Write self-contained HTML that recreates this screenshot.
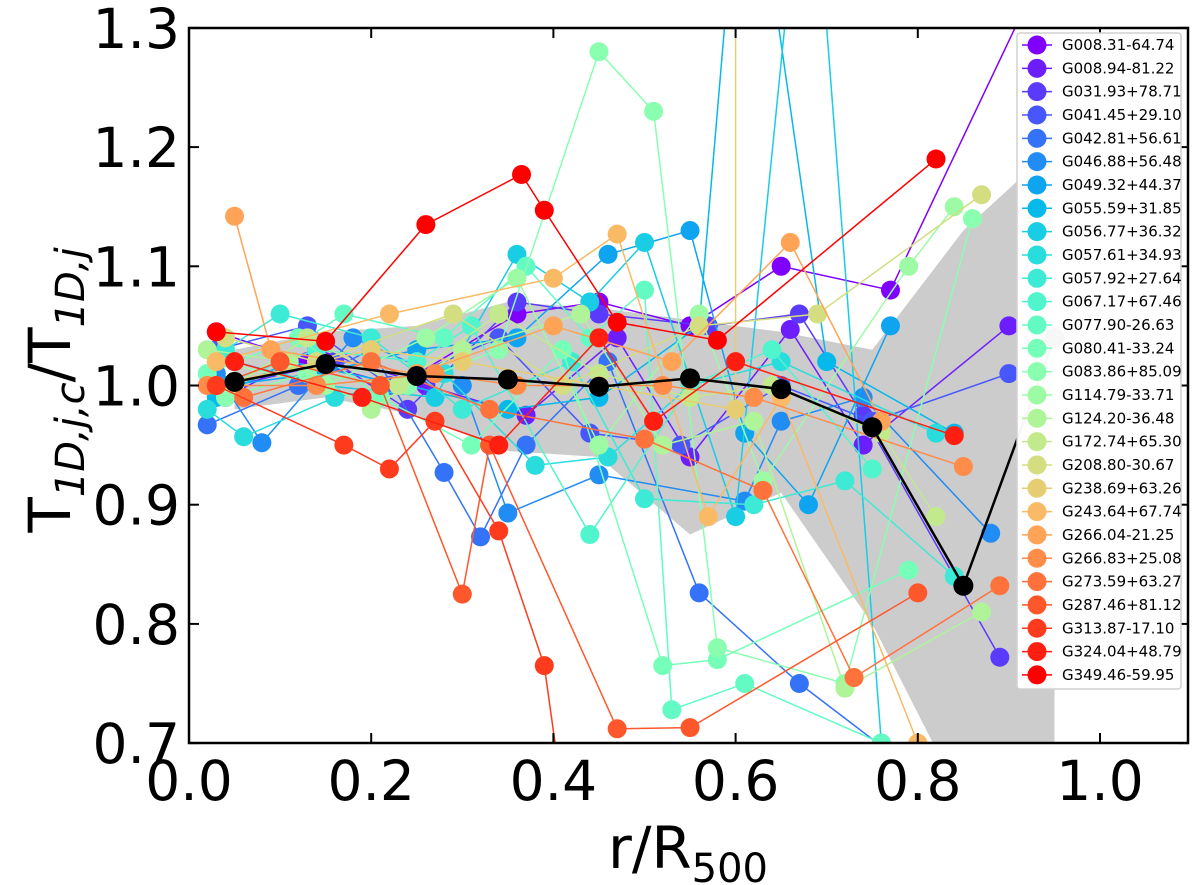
<!DOCTYPE html>
<html><head><meta charset="utf-8"><style>
body{margin:0;background:#fff}
svg{display:block;font-family:"DejaVu Sans","Liberation Sans",sans-serif}
</style></head><body>
<svg id="chart" width="1200" height="885">
<defs><clipPath id="clip"><rect x="189" y="28" width="999" height="715"/></clipPath></defs>
<g id="plot" clip-path="url(#clip)"></g>
<g id="axes"></g>
<g id="legend"></g>
</svg>
<script>
const names=["G008.31-64.74","G008.94-81.22","G031.93+78.71","G041.45+29.10","G042.81+56.61","G046.88+56.48","G049.32+44.37","G055.59+31.85","G056.77+36.32","G057.61+34.93","G057.92+27.64","G067.17+67.46","G077.90-26.63","G080.41-33.24","G083.86+85.09","G114.79-33.71","G124.20-36.48","G172.74+65.30","G208.80-30.67","G238.69+63.26","G243.64+67.74","G266.04-21.25","G266.83+25.08","G273.59+63.27","G287.46+81.12","G313.87-17.10","G324.04+48.79","G349.46-59.95"];
const series=[
[[0.03,1.045],[0.13,1.02],[0.23,1.0],[0.36,1.06],[0.45,1.07],[0.55,1.05],[0.65,1.1],[0.77,1.08],[1.0,1.45]],
[[0.04,0.99],[0.14,1.03],[0.26,1.0],[0.37,0.975],[0.47,1.04],[0.55,0.94],[0.66,1.047],[0.74,0.95],[0.9,1.05]],
[[0.05,1.0],[0.16,1.02],[0.24,0.98],[0.36,1.07],[0.45,1.06],[0.57,1.05],[0.67,1.06],[0.74,0.975],[0.89,0.772]],
[[0.03,1.03],[0.13,1.05],[0.22,1.0],[0.34,1.04],[0.44,0.96],[0.54,0.95],[0.65,1.0],[0.75,0.97],[0.9,1.01]],
[[0.02,0.967],[0.12,1.0],[0.2,1.03],[0.28,0.927],[0.32,0.873],[0.37,0.95],[0.46,1.02],[0.56,0.826],[0.67,0.75],[0.79,0.68]],
[[0.03,1.01],[0.08,0.952],[0.18,1.04],[0.3,1.0],[0.35,0.893],[0.45,0.925],[0.61,0.903],[0.65,0.97],[0.74,0.99],[0.88,0.876]],
[[0.04,1.0],[0.14,1.01],[0.25,1.03],[0.36,1.04],[0.46,1.11],[0.55,1.13],[0.61,0.96],[0.68,0.9],[0.77,1.05]],
[[0.03,0.99],[0.11,1.02],[0.24,1.0],[0.35,0.98],[0.45,0.99],[0.56,1.05],[0.61,1.5],[0.7,1.02],[0.84,0.96]],
[[0.05,1.02],[0.15,1.0],[0.27,0.99],[0.36,1.11],[0.44,1.07],[0.5,1.12],[0.6,0.89],[0.68,1.5],[0.76,0.7]],
[[0.02,0.98],[0.06,0.957],[0.16,0.99],[0.28,1.01],[0.38,0.933],[0.46,0.94],[0.55,1.0],[0.65,1.02],[0.82,0.96]],
[[0.04,1.03],[0.1,1.06],[0.2,1.04],[0.3,0.98],[0.42,1.02],[0.5,0.905],[0.62,0.9],[0.72,0.92],[0.84,0.84]],
[[0.03,1.0],[0.14,1.03],[0.25,1.02],[0.31,1.05],[0.44,0.875],[0.55,1.0],[0.64,1.03],[0.75,0.93]],
[[0.05,1.0],[0.17,1.06],[0.28,1.04],[0.37,1.1],[0.44,1.04],[0.5,1.08],[0.53,0.728],[0.61,0.75],[0.76,0.7]],
[[0.02,1.01],[0.12,1.04],[0.21,0.99],[0.31,0.95],[0.41,1.03],[0.52,0.765],[0.58,0.77],[0.79,0.845]],
[[0.04,0.99],[0.13,1.01],[0.24,1.0],[0.34,1.03],[0.45,1.28],[0.51,1.23],[0.58,0.78],[0.72,0.75],[0.86,1.14]],
[[0.03,1.02],[0.15,1.0],[0.26,1.04],[0.36,1.09],[0.45,0.95],[0.56,1.06],[0.63,0.92],[0.79,1.1],[0.84,1.15]],
[[0.02,1.03],[0.11,1.02],[0.2,0.98],[0.3,1.03],[0.43,1.06],[0.52,0.95],[0.62,0.97],[0.72,0.746],[0.87,0.81]],
[[0.05,1.0],[0.13,1.04],[0.23,1.0],[0.34,1.06],[0.45,1.01],[0.55,0.99],[0.64,1.0],[0.76,0.96],[0.82,0.89]],
[[0.04,1.04],[0.14,1.02],[0.29,1.06],[0.41,1.0],[0.56,1.05],[0.69,1.06],[0.87,1.16]],
[[0.03,1.0],[0.2,1.03],[0.3,1.02],[0.45,1.0],[0.6,0.98],[0.6,1.6]],
[[0.03,1.02],[0.22,1.06],[0.4,1.09],[0.47,1.127],[0.57,0.89],[0.65,0.99],[0.8,0.7]],
[[0.05,1.142],[0.09,1.03],[0.25,1.01],[0.4,1.05],[0.53,1.02],[0.66,1.12],[0.76,0.97]],
[[0.02,1.0],[0.14,1.0],[0.27,1.01],[0.36,1.0],[0.52,1.0],[0.62,0.99],[0.85,0.932]],
[[0.06,0.99],[0.2,1.02],[0.33,0.98],[0.5,0.955],[0.63,0.912],[0.73,0.755],[0.89,0.832]],
[[0.03,1.0],[0.1,1.02],[0.21,1.0],[0.3,0.825],[0.33,0.95],[0.47,0.712],[0.55,0.713],[0.8,0.826]],
[[0.03,1.0],[0.17,0.95],[0.22,0.93],[0.27,0.97],[0.34,0.878],[0.39,0.765],[0.42,0.6]],
[[0.05,1.02],[0.19,0.99],[0.34,0.95],[0.45,1.04],[0.51,0.97],[0.6,1.02],[0.84,0.958]],
[[0.03,1.045],[0.15,1.037],[0.26,1.135],[0.365,1.177],[0.39,1.147],[0.47,1.053],[0.58,1.038],[0.82,1.19]]
];
const meanX=[0.05,0.15,0.25,0.35,0.45,0.55,0.65,0.75,0.85,0.95];
const meanY=[1.003,1.018,1.008,1.005,0.999,1.006,0.997,0.965,0.832,1.04];
const bandUpper=[1.03,1.045,1.05,1.07,1.065,1.055,1.045,1.03,1.13,1.2];
const bandLower=[0.98,0.99,0.975,0.945,0.94,0.875,0.91,0.8,0.65,0.62];
const xTicks=[0,0.2,0.4,0.6,0.8,1.0];
const yTicks=[0.7,0.8,0.9,1.0,1.1,1.2,1.3];
const NS="http://www.w3.org/2000/svg";
const X=v=>189+v*911, Y=v=>385.5-(v-1)*1192;
function mk(t,a,p){const e=document.createElementNS(NS,t);for(const k in a)e.setAttribute(k,a[k]);p.appendChild(e);return e;}
function col(t){const r=Math.min(1,Math.abs(2*t-0.5)),g=Math.sin(Math.PI*t),b=Math.cos(Math.PI*t/2);return `rgb(${Math.round(r*255)},${Math.round(g*255)},${Math.round(b*255)})`;}
const plot=document.getElementById('plot'),axes=document.getElementById('axes'),leg=document.getElementById('legend');
let pts=meanX.map((x,i)=>X(x)+','+Y(bandUpper[i])).concat(meanX.map((x,i)=>X(x)+','+Y(bandLower[i])).reverse());
const band=mk('polygon',{points:pts.join(' '),fill:'#cccccc'},plot);


series.forEach((s,i)=>{
 const c=col(i/27);
 const g=mk('g',{},plot);
 
 
 mk('polyline',{points:s.map(p=>X(p[0])+','+Y(p[1])).join(' '),fill:'none',stroke:c,'stroke-width':1.5},g);
 s.forEach(p=>mk('circle',{cx:X(p[0]),cy:Y(p[1]),r:9.5,fill:c},g));
});
const mg=mk('g',{},plot);


mk('polyline',{points:meanX.map((x,i)=>X(x)+','+Y(meanY[i])).join(' '),fill:'none',stroke:'#000','stroke-width':2.5},mg);
meanX.forEach((x,i)=>mk('circle',{cx:X(x),cy:Y(meanY[i]),r:10,fill:'#000'},mg));
mk('rect',{x:189,y:28,width:999,height:715,fill:'none',stroke:'#000','stroke-width':2.5},axes);
xTicks.forEach(v=>{const x=X(v);
 mk('line',{x1:x,x2:x,y1:743,y2:733,stroke:'#000','stroke-width':2},axes);
 mk('line',{x1:x,x2:x,y1:28,y2:38,stroke:'#000','stroke-width':2},axes);
 const t=mk('text',{x:x,y:800,'font-size':55,'text-anchor':'middle'},axes);t.textContent=v.toFixed(1);
 });
yTicks.forEach(v=>{const y=Y(v);
 mk('line',{x1:189,x2:199,y1:y,y2:y,stroke:'#000','stroke-width':2},axes);
 mk('line',{x1:1188,x2:1178,y1:y,y2:y,stroke:'#000','stroke-width':2},axes);
 const t=mk('text',{x:180,y:y+20,'font-size':55,'text-anchor':'end'},axes);t.textContent=v.toFixed(1);
 });
const xl=mk('text',{x:688,y:868,'font-size':58,'text-anchor':'middle'},axes);
xl.innerHTML='r/R<tspan font-size="40" dy="14">500</tspan>';

const yl=mk('text',{transform:'translate(70,390) rotate(-90)','font-size':58,'text-anchor':'middle'},axes);
yl.innerHTML='T<tspan font-size="40" dy="14" font-style="italic">1D,j,c</tspan><tspan dy="-14">/T</tspan><tspan font-size="40" dy="14" font-style="italic">1D,j</tspan>';

mk('rect',{x:1017,y:33,width:164,height:656,rx:3,fill:'rgba(255,255,255,0.97)',stroke:'#d0d0d0','stroke-width':1.5},leg);
names.forEach((n,i)=>{const y=45+i*23.33,c=col(i/27);
 const g=mk('g',{},leg);
 
 mk('line',{x1:1022,x2:1052,y1:y,y2:y,stroke:c,'stroke-width':1.5},g);
 mk('circle',{cx:1037,cy:y,r:9.5,fill:c},g);
 const t=mk('text',{x:1062,y:y+5,'font-size':15},g);t.textContent=n;});
</script>
</body></html>
